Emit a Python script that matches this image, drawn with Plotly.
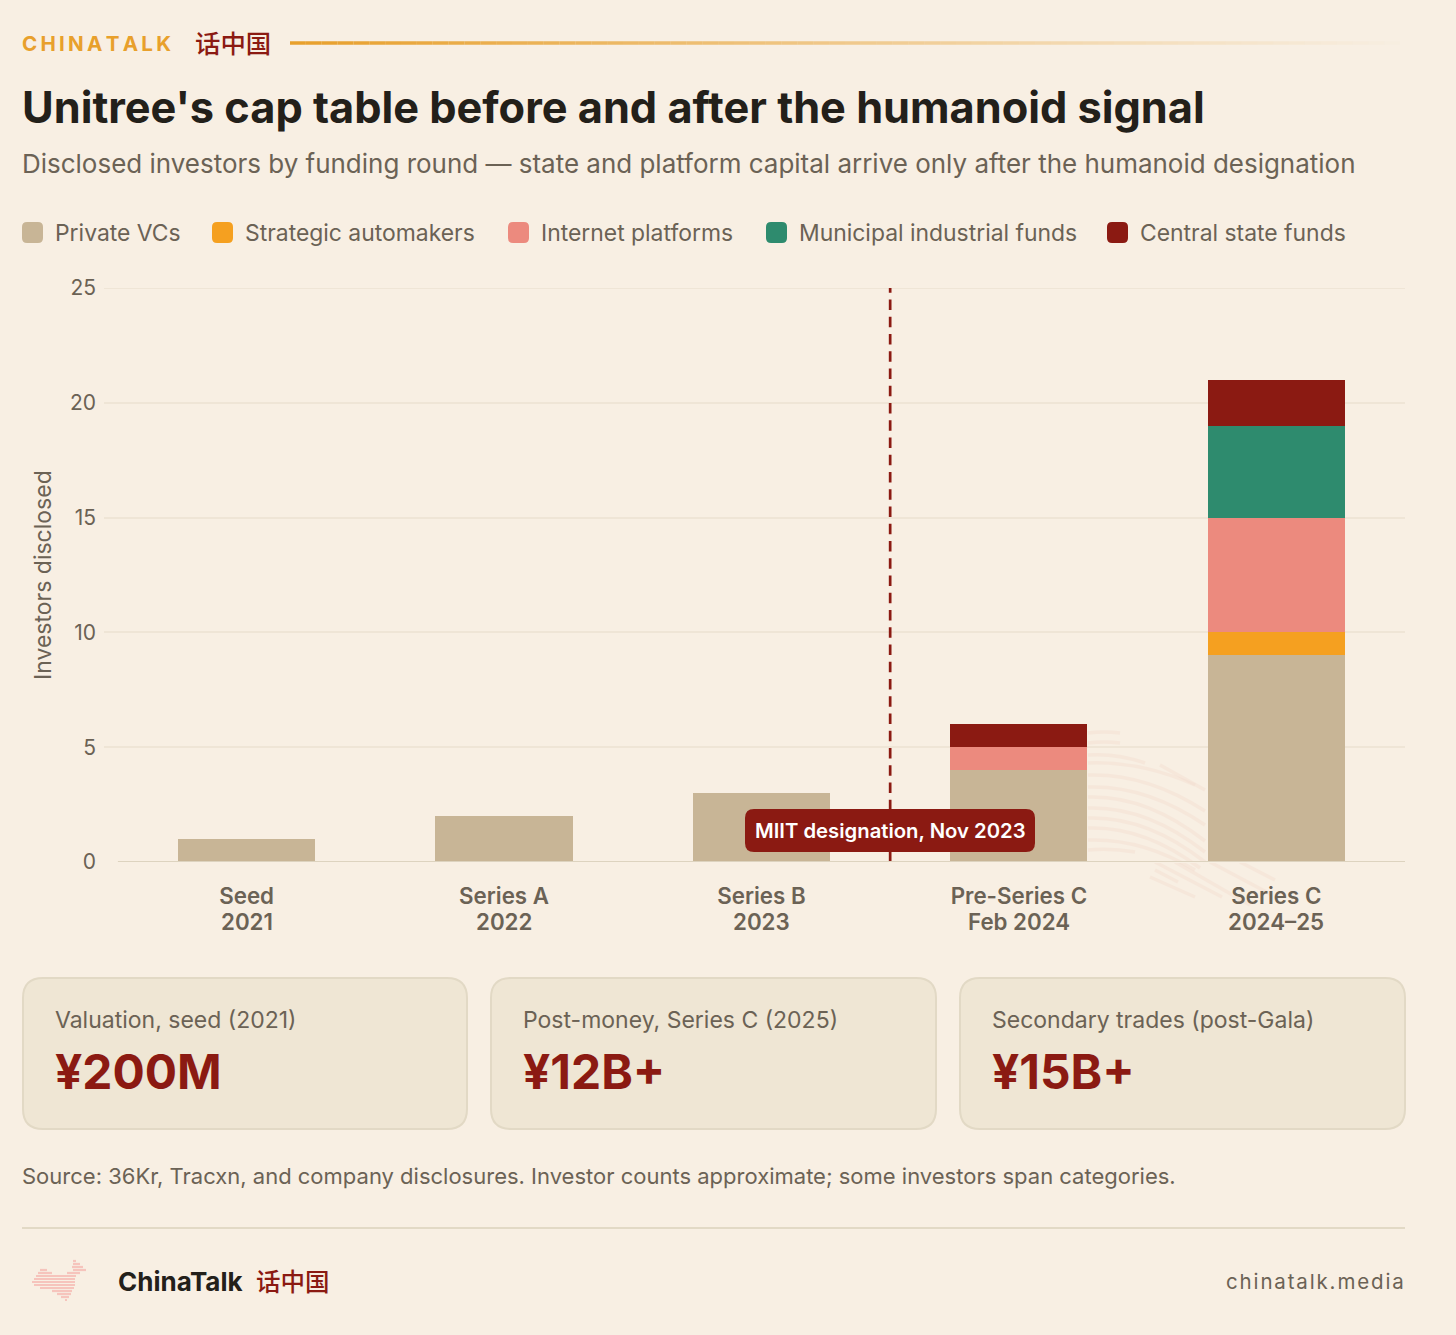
import plotly.graph_objects as go

W, H = 1456, 1335

# Data
round_names = ["Seed", "Series A", "Series B", "Pre-Series C", "Series C"]
round_dates = ["2021", "2022", "2023", "Feb 2024", "2024–25"]
private_vcs = [1, 2, 3, 4, 9]
automakers = [0, 0, 0, 0, 1]
platforms = [0, 0, 0, 1, 5]
municipal = [0, 0, 0, 0, 4]
central = [0, 0, 0, 1, 2]

series_names = ["Private VCs", "Strategic automakers", "Internet platforms", "Municipal industrial funds", "Central state funds"]
series_values = [private_vcs, automakers, platforms, municipal, central]
series_colors = ["#c8b596", "#f5a020", "#ec8a7e", "#2e8b6e", "#8b1a12"]

card_labels = ["Valuation, seed (2021)", "Post-money, Series C (2025)", "Secondary trades (post-Gala)"]
card_values = ["¥200M", "¥12B+", "¥15B+"]

BG = "#f8efe3"
INK = "#23201a"
MUTED = "#6b6255"
RED = "#8b1a12"
ORANGE = "#e8a02c"
RULE = "#e2d9c5"
GRID = "#efe5d6"
FONT = "Inter"
CJK = "Noto Sans CJK SC"


def px(x):
    return x / W


def py(y):
    return 1 - y / H


def rounded(x0, y0, x1, y1, r):
    return (f"M {px(x0 + r)} {py(y0)} L {px(x1 - r)} {py(y0)} Q {px(x1)} {py(y0)} {px(x1)} {py(y0 + r)} "
            f"L {px(x1)} {py(y1 - r)} Q {px(x1)} {py(y1)} {px(x1 - r)} {py(y1)} "
            f"L {px(x0 + r)} {py(y1)} Q {px(x0)} {py(y1)} {px(x0)} {py(y1 - r)} "
            f"L {px(x0)} {py(y0 + r)} Q {px(x0)} {py(y0)} {px(x0 + r)} {py(y0)} Z")


shapes = []
annotations = []


def text(x, y, s, size, color=MUTED, weight=400, family=FONT, anchor="left", angle=0):
    annotations.append(dict(x=px(x), y=py(y), xref="paper", yref="paper", text=s, showarrow=False,
                            xanchor=anchor, yanchor="middle", borderpad=0, borderwidth=0, textangle=angle,
                            font=dict(size=size, color=color, weight=weight, family=family)))


def box(x0, y0, x1, y1, r, fill, line=None, layer="above"):
    shapes.append(dict(type="path", path=rounded(x0, y0, x1, y1, r), xref="paper", yref="paper",
                       fillcolor=fill, line=dict(color=line or fill, width=2 if line else 0), layer=layer))


def stroke(path, color, width, opacity=1.0, layer="below"):
    shapes.append(dict(type="path", path=path, xref="paper", yref="paper", line=dict(color=color, width=width),
                       opacity=opacity, layer=layer))


def hline(x0, x1, y, color, width, opacity=1.0, layer="above"):
    shapes.append(dict(type="line", xref="paper", yref="paper", x0=px(x0), x1=px(x1), y0=py(y), y1=py(y),
                       line=dict(color=color, width=width), opacity=opacity, layer=layer))


# Header
text(22, 43.5, "\u200a\u200a".join("CHINATALK"), 20.6, ORANGE, 700)
text(194.5, 42, "话中国", 25.4, RED, 500, CJK)
steps = 70
for i in range(steps):
    x0 = 290 + (1400 - 290) * i / steps
    x1 = 290 + (1400 - 290) * (i + 1) / steps
    hline(x0, x1, 43, ORANGE, 3.5, opacity=(1 - i / steps) ** 1.1)
text(22, 107, "Unitree's cap table before and after the humanoid signal", 43.3, INK, 700)
text(22, 163.5, "Disclosed investors by funding round — state and platform capital arrive only after the humanoid designation", 25.98)

# Legend row
legend_x = [22, 212, 508, 766, 1107]
for x, name, color in zip(legend_x, series_names, series_colors):
    box(x, 222, x + 21, 243, 5, color)
    text(x + 32.5, 233, name, 22.9)

# Watermark behind the chart
for y, x1, drop in [(733, 1120, 0), (743, 1120, 0), (755, 1145, 8), (763, 1195, 22), (775, 1205, 36), (787, 1205, 38),
                    (797, 1205, 44), (808, 1205, 44), (818, 1205, 44), (828, 1200, 40), (840, 1195, 30), (850, 1135, 2)]:
    stroke(f"M {px(1088)} {py(y)} Q {px((1088 + x1) / 2)} {py(y - 2)} {px(x1)} {py(y + drop)}", "#f3d9cc", 3.5, 0.35)
for x0, y0, x1, y1 in [(1160, 765, 1205, 790), (1155, 870, 1178, 882), (1150, 877, 1195, 897), (1155, 862, 1222, 897),
                       (1175, 862, 1250, 905), (1210, 862, 1272, 895), (1240, 862, 1275, 880)]:
    stroke(f"M {px(x0)} {py(y0)} L {px(x1)} {py(y1)}", "#f3d9cc", 3.5, 0.35)

# Top gridline sits on the axis edge, so it is drawn by hand
shapes.append(dict(type="line", xref="paper", yref="y", x0=px(104), x1=px(1405), y0=25, y1=25, layer="below",
                   line=dict(color=GRID, width=2)))

# Marker line and label
shapes.append(dict(type="line", xref="x", yref="y", x0=2.5, x1=2.5, y0=0, y1=25, layer="above",
                   line=dict(color=RED, width=2.7, dash="10.5px,6.75px")))
shapes.append(dict(type="line", xref="x", yref="y", x0=-0.5, x1=4.5, y0=0, y1=0, layer="above",
                   line=dict(color="#ddd3bf", width=2)))
box(745, 809, 1035, 852, 9, RED)
text(890, 830.5, "MIIT designation, Nov 2023", 20.3, "#ffffff", 600, anchor="center")

# Second line of the round labels
for name, date in zip(round_names, round_dates):
    annotations.append(dict(x=name, y=py(921.5), xref="x", yref="paper", text=date, showarrow=False,
                            xanchor="center", yanchor="middle", borderpad=0,
                            font=dict(size=22.3, color=MUTED, weight=600, family=FONT)))

# Stat cards
card_x = [(23, 467), (491, 936), (960, 1405)]
for (x0, x1), label, value in zip(card_x, card_labels, card_values):
    box(x0, 978, x1, 1129, 20, "#efe6d4", RULE, layer="below")
    text(x0 + 32, 1020, label, 23)
    text(x0 + 32, 1072, value, 47.9, RED, 700)

# Footer
text(22, 1176, "Source: 36Kr, Tracxn, and company disclosures. Investor counts approximate; some investors span categories.", 22)
hline(22, 1405, 1228, RULE, 2)
logo_rows = [(1261, [(73, 76)]), (1264, [(73, 80)]), (1267, [(72, 83)]), (1270, [(40, 47), (73, 86)]),
             (1273, [(38, 52), (67, 80)]), (1276, [(36, 76)]), (1279, [(34, 75)]), (1282, [(32, 75)]),
             (1285, [(34, 75)]), (1288, [(40, 74)]), (1291, [(52, 72)]), (1294, [(57, 71)]), (1297, [(61, 69)]),
             (1300, [(65, 67)])]
for y, spans in logo_rows:
    for x0, x1 in spans:
        hline(x0, x1, y, "#f6c4bc", 2.2)
text(118, 1281.5, "ChinaTalk", 26, INK, 700)
text(256, 1280.5, "话中国", 24.5, RED, 500, CJK)
text(1404, 1281.5, "\u200a".join("chinatalk.media"), 20.5, MUTED, anchor="right")
text(43, 575, "Investors disclosed", 23, MUTED, anchor="center", angle=-90)

fig = go.Figure()
for name, values, color in zip(series_names, series_values, series_colors):
    fig.add_trace(go.Bar(x=round_names, y=values, name=name, marker=dict(color=color, line=dict(width=0)), width=0.533))

fig.update_layout(
    barmode="stack",
    width=W,
    height=H,
    margin=dict(l=0, r=0, t=0, b=0),
    autosize=False,
    paper_bgcolor=BG,
    plot_bgcolor=BG,
    showlegend=False,
    hovermode=False,
    font=dict(family=FONT, color=MUTED),
    shapes=shapes,
    annotations=annotations,
)
fig.update_xaxes(
    domain=[px(104), px(1405)],
    range=[-0.554, 4.5],
    type="category",
    automargin=False,
    tickfont=dict(size=22.3, color=MUTED, weight=600, family=FONT),
    ticks="",
    showgrid=False,
    showline=False,
    ticklabelstandoff=19,
)
fig.update_yaxes(
    domain=[py(862), py(288)],
    range=[0, 25],
    tickvals=[0, 5, 10, 15, 20, 25],
    automargin=False,
    tickfont=dict(size=21, color=MUTED, family=FONT),
    gridcolor=GRID,
    gridwidth=2,
    zeroline=True,
    zerolinecolor=BG,
    showline=False,
    ticks="",
    ticklabelstandoff=7,
)

fig.write_html("out.html", config=dict(displayModeBar=False), post_script="document.body.style.margin='0';")
